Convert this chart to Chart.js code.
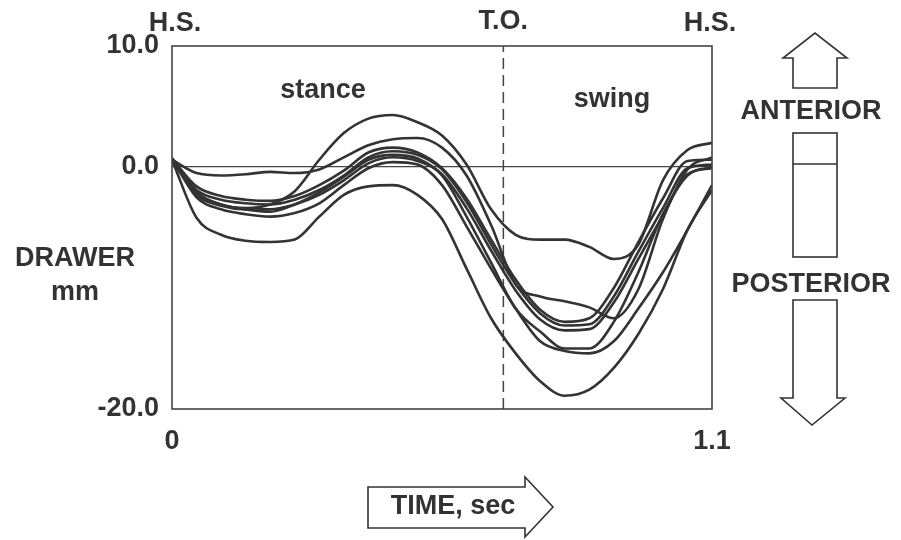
<!DOCTYPE html>
<html>
<head>
<meta charset="utf-8">
<script src="https://cdn.jsdelivr.net/npm/chart.js@4.4.1/dist/chart.umd.min.js"></script>
<style>
  html, body { margin: 0; padding: 0; background: #fff; }
  #wrap { width: 901px; height: 540px; }
</style>
</head>
<body>
<div id="wrap"><canvas id="myChart" width="901" height="540"></canvas></div>
<script>
// tiempo del ciclo de marcha (seg)
const tiempos = [0, 0.05, 0.1, 0.15, 0.2, 0.25, 0.3, 0.35, 0.4, 0.45, 0.5, 0.55,
                 0.6, 0.65, 0.7, 0.75, 0.8, 0.85, 0.9, 0.95, 1.0, 1.05, 1.1];

// curvas de cajon (mm)
const curvaA = [0.6, -4.2, -5.6, -6.1, -6.2, -6.0, -4.1, -2.3, -1.6, -1.5, -2.3, -4.3,
                -8.4, -12.5, -15.4, -17.7, -18.9, -18.4, -16.6, -13.8, -10.1, -5.2, -1.9];
const curvaB = [0.6, -2.1, -3.1, -3.4, -3.1, -2.0, 0.6, 2.8, 4.0, 4.3, 3.7, 2.6,
                0.2, -3.5, -5.6, -6.0, -6.0, -6.6, -7.6, -6.4, -1.1, 1.4, 2.0];
const curvaC = [0.6, -0.5, -0.7, -0.6, -0.4, -0.5, -0.2, 0.8, 1.8, 2.3, 2.4, 1.6,
                -0.7, -4.8, -9.7, -10.7, -11.1, -11.6, -12.5, -10.1, -4.3, -0.2, 0.8];
const curvaD = [0.7, -1.6, -2.4, -2.7, -2.8, -2.4, -1.5, -0.3, 1.2, 1.6, 1.2, -0.1,
                -2.6, -6.0, -9.3, -11.8, -12.8, -12.5, -10.0, -6.2, -2.6, 0.5, 0.6];
const curvaE = [0.7, -1.9, -2.7, -3.0, -3.1, -2.7, -1.9, -0.7, 0.8, 1.3, 1.0, -0.2,
                -2.9, -6.4, -9.7, -12.1, -13.1, -13.0, -10.7, -7.0, -3.4, -0.1, 0.2];
const curvaF = [0.6, -2.3, -3.2, -3.5, -3.5, -3.1, -2.3, -1.1, 0.3, 0.8, 0.5, -0.6,
                -3.4, -6.9, -10.2, -12.6, -13.5, -13.4, -11.2, -7.6, -4.0, -0.6, -0.1];
const curvaG = [0.7, -2.5, -3.5, -3.9, -4.1, -3.8, -3.0, -1.5, -0.1, 0.4, 0.2, -1.5,
                -4.9, -8.4, -11.7, -14.4, -15.2, -15.4, -14.4, -11.7, -8.7, -5.2, -1.5];
const curvaH = [0.7, -2.1, -3.1, -3.5, -3.7, -3.1, -2.1, -0.8, 0.6, 1.0, 0.7, -0.7,
                -4.1, -7.9, -11.7, -13.6, -15.0, -15.0, -12.8, -8.7, -3.9, -0.7, 0.0];

const curvas = [curvaA, curvaB, curvaC, curvaD, curvaE, curvaF, curvaG, curvaH];

const despegue = 0.675;          // T.O.
const ticksY = [-20, 0, 10];
const ticksX = [0, 1.1];

const tinta = '#333333';
const fuente = 'bold 27px "Liberation Sans", Arial, sans-serif';

// arma los datasets
let datasets = [];
curvas.forEach((c) => {
    datasets.push({
        data: c.map((v, i) => ({ x: tiempos[i], y: v })),
        borderColor: tinta,
        borderWidth: 2.6,
        pointRadius: 0,
        cubicInterpolationMode: 'monotone',
        fill: false
    });
});
// linea punteada del despegue
datasets.push({
    data: [{ x: despegue, y: -20 }, { x: despegue, y: 10 }],
    borderColor: '#444',
    borderWidth: 1.5,
    borderDash: [11, 6],
    pointRadius: 0
});

// marco, textos y flechas
const adornos = {
    id: 'adornos',
    afterDraw(chart) {
        const ctx = chart.ctx;
        const a = chart.chartArea;
        const sx = chart.scales.x;
        ctx.save();
        ctx.strokeStyle = '#444';
        ctx.lineWidth = 1.6;
        ctx.strokeRect(a.left, a.top, a.right - a.left, a.bottom - a.top);

        ctx.fillStyle = tinta;
        ctx.font = fuente;
        ctx.textAlign = 'center';
        ctx.textBaseline = 'middle';
        ctx.fillText('H.S.', sx.getPixelForValue(0) + 3, 24);
        ctx.fillText('T.O.', sx.getPixelForValue(despegue), 22);
        ctx.fillText('H.S.', sx.getPixelForValue(1.1) - 2, 24);
        ctx.fillText('DRAWER', 75, 259);
        ctx.fillText('mm', 75, 293);
        ctx.fillText('ANTERIOR', 811, 112);
        ctx.fillText('POSTERIOR', 811, 285);
        ctx.fillText('TIME, sec', 453, 507);
        ctx.textBaseline = 'alphabetic';
        ctx.fillText('stance', 323, 98);
        ctx.fillText('swing', 612, 107);

        ctx.strokeStyle = tinta;
        ctx.lineWidth = 1.6;
        ctx.lineJoin = 'miter';
        const poligono = (pts) => {
            ctx.beginPath();
            ctx.moveTo(pts[0][0], pts[0][1]);
            for (let i = 1; i < pts.length; i++) ctx.lineTo(pts[i][0], pts[i][1]);
            ctx.closePath();
            ctx.stroke();
        };
        // flecha arriba
        poligono([[793, 88], [793, 58], [783, 58], [815, 33], [847, 58], [837, 58], [837, 88]]);
        // barra
        ctx.strokeRect(793, 133, 44, 124);
        ctx.beginPath();
        ctx.moveTo(793, 164);
        ctx.lineTo(837, 164);
        ctx.stroke();
        // flecha abajo
        poligono([[793, 300], [837, 300], [837, 398], [845, 398], [812, 425], [781, 398], [793, 398]]);
        // flecha del tiempo
        poligono([[368, 487], [525, 487], [525, 477], [553, 507], [525, 537], [525, 528], [368, 528]]);
        ctx.restore();
    }
};

const ctx = document.getElementById('myChart');
const mychart = new Chart(ctx, {
    type: 'line',
    data: { datasets: datasets },
    options: {
        responsive: false,
        animation: false,
        devicePixelRatio: 1,
        layout: { padding: { left: 0, right: 189, top: 46, bottom: 0 } },
        plugins: { legend: { display: false }, tooltip: { enabled: false } },
        scales: {
            x: {
                type: 'linear',
                min: 0,
                max: 1.1,
                afterBuildTicks: (s) => { s.ticks = ticksX.map(v => ({ value: v })); },
                afterFit: (s) => { s.height = 131; },
                grid: { display: false },
                border: { display: false },
                ticks: {
                    color: tinta,
                    font: { family: '"Liberation Sans", Arial, sans-serif', size: 27, weight: 'bold' },
                    padding: 8,
                    maxRotation: 0,
                    callback: (v) => v === 0 ? '0' : v.toFixed(1)
                }
            },
            y: {
                type: 'linear',
                min: -20,
                max: 10,
                afterBuildTicks: (s) => { s.ticks = ticksY.map(v => ({ value: v })); },
                afterFit: (s) => { s.width = 172; },
                grid: {
                    drawTicks: false,
                    lineWidth: 1.3,
                    color: (c) => (c.tick && c.tick.value === 0) ? '#444' : 'rgba(0,0,0,0)'
                },
                border: { display: false },
                ticks: {
                    color: tinta,
                    font: { family: '"Liberation Sans", Arial, sans-serif', size: 27, weight: 'bold' },
                    padding: 13,
                    callback: (v) => v.toFixed(1)
                }
            }
        }
    },
    plugins: [adornos]
});
</script>
</body>
</html>
